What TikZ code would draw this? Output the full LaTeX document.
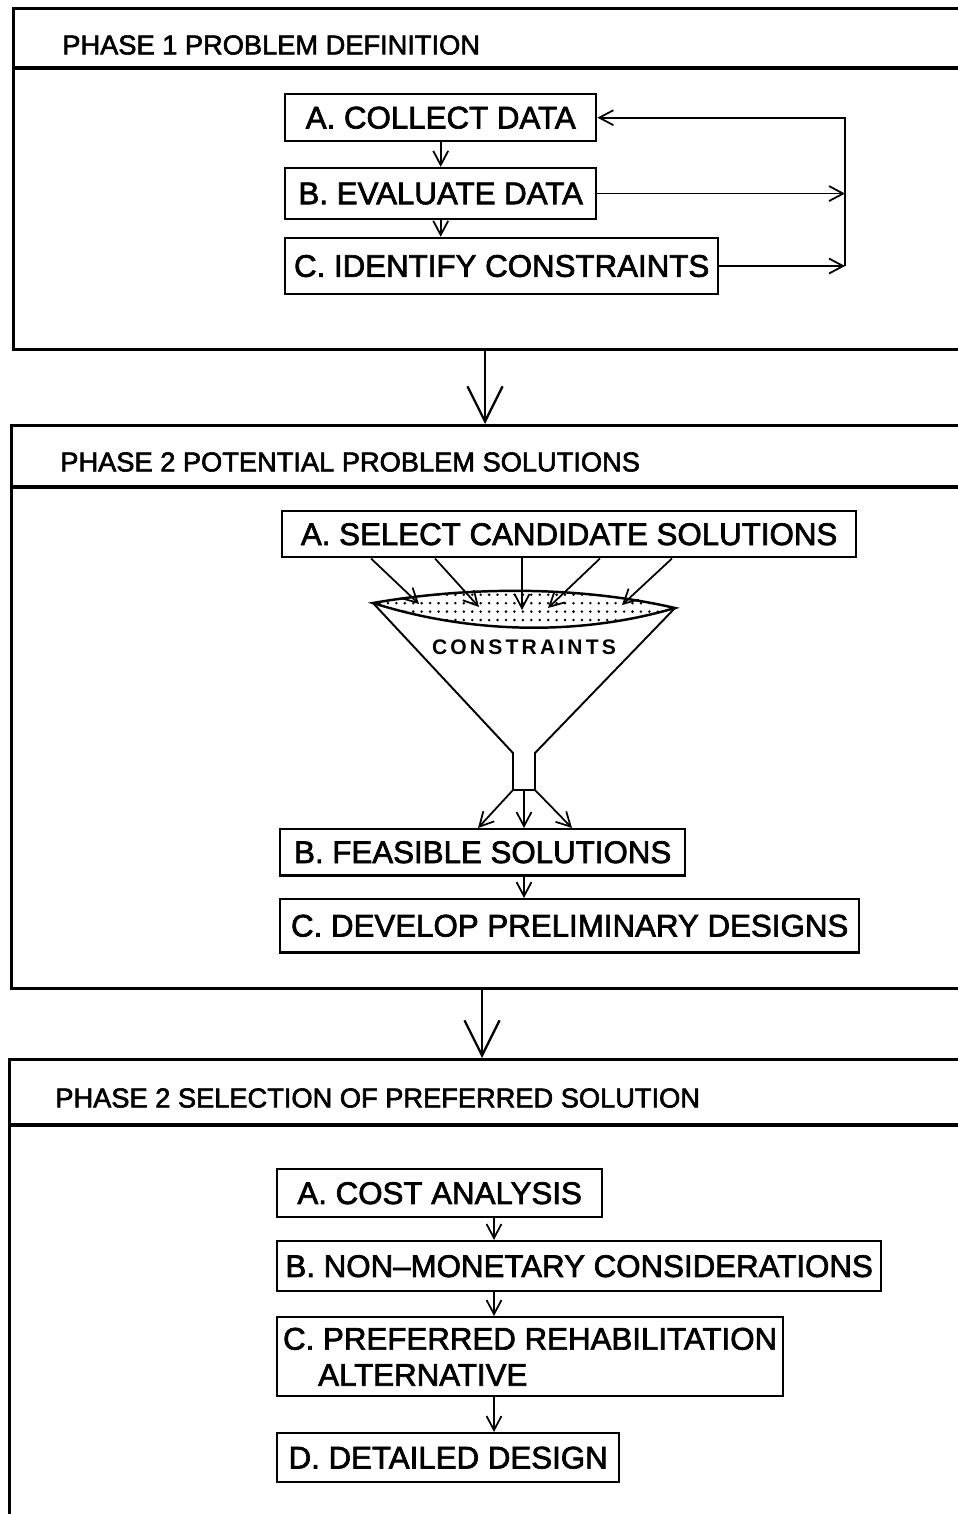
\documentclass[tikz,border=0pt]{standalone}
\usepackage{fontspec}
\setmainfont{Liberation Sans}
% regular outlines, thickened a little, stand in for the bold series
\newfontfamily\chartfont{Liberation Sans}[BoldFont={Liberation Sans}, BoldFeatures={FakeBold=2.2}]
\newfontfamily\spacedfont{Liberation Sans}[LetterSpace=15]
\usetikzlibrary{arrows.meta, positioning, patterns}

% loose dot raster for the funnel mouth
\pgfdeclarepatternformonly{sparse dots}{\pgfqpoint{-1pt}{-1pt}}{\pgfqpoint{1pt}{1pt}}{\pgfqpoint{4.8pt}{4.8pt}}%
{\pgfpathcircle{\pgfqpoint{0pt}{0pt}}{0.8pt}\pgfusepath{fill}}

\tikzstyle{phasebox} = [rectangle, 
draw=black, 
line width=1.8pt, 
anchor=north west, 
minimum width=563pt]
\tikzstyle{phasetitle} = [anchor=west, 
inner sep=0pt, 
font=\chartfont\bfseries\fontsize{15.5}{18}\selectfont]
\tikzstyle{task} = [rectangle, 
draw=black, 
line width=1.4pt, 
text centered, 
font=\chartfont\bfseries\fontsize{17.8}{20.5}\selectfont]
\tikzstyle{flow} = [-{Straight Barb[length=8pt, width=8.5pt]}, line width=1pt]
\tikzstyle{handover} = [-{Straight Barb[length=20pt, width=20pt]}, line width=1.3pt]

\begin{document}
\begin{tikzpicture}[x=0.02cm, y=-0.02cm]
\useasboundingbox (0,0) rectangle (957,1514);

% ---- phase 1
\node (phase1) [phasebox, minimum height=194pt] at (12,7) {};
\draw[line width=1.8pt] (phase1.north west) ++(0,61) -- ++(990,0);
\node (head1) [phasetitle] at (62,45) {PHASE 1 PROBLEM DEFINITION};

\node (a1) [task, minimum width=177pt, minimum height=26.7pt, anchor=north west] at (284,93) {A. COLLECT DATA};
\node (b1) [task, minimum width=177pt, minimum height=29pt, below=0.49cm of a1.south west, anchor=north west] {B. EVALUATE DATA};
\node (c1) [task, minimum width=246.4pt, minimum height=31.9pt, below=0.33cm of b1.south west, anchor=north west] {C. IDENTIFY CONSTRAINTS};

\coordinate (loop) at (845,0);
\draw[flow] (a1) -- (b1);
\draw[flow] (b1.south) -- (b1.south |- c1.north);
\draw[flow] (b1.east) -- (b1.east -| loop);
\draw[flow] (c1.east) -- (c1.east -| loop);
\draw[flow] (c1.east -| loop) -- (a1.east -| loop) -- (a1.east);

% ---- phase 2
\node (phase2) [phasebox, minimum height=320.4pt] at (10,424) {};
\draw[line width=1.8pt] (phase2.north west) ++(0,63) -- ++(990,0);
\node (head2) [phasetitle] at (60,462) {PHASE 2 POTENTIAL PROBLEM SOLUTIONS};

\coordinate (link1) at (485,0);
\draw[handover] (phase1.south -| link1) -- (phase2.north -| link1);

\node (a2) [task, minimum width=326.6pt, minimum height=26.2pt, anchor=north west] at (281,510) {A. SELECT CANDIDATE SOLUTIONS};

% funnel
\coordinate (rimL) at (373,603);
\coordinate (rimR) at (675,608);
\draw[line width=1.4pt, pattern=sparse dots] (rimL) .. controls (470,586) and (580,586) .. (rimR) .. controls (580,636) and (470,634) .. cycle;
\draw[line width=1.1pt] (rimL) -- (513,753) -- (513,790) -- (535,790) -- (535,753) -- (rimR);
\node (filter) [font=\spacedfont\bfseries\fontsize{12}{14}\selectfont] at (524,647) {CONSTRAINTS};

\foreach \sx/\tx/\ty [count=\i] in {371/419/604, 435/479/607, 522/522/610, 600/548/608, 672/622/605} {
  \coordinate (drop\i) at (\tx,\ty);
  \draw[flow] (a2.south -| \sx,0) -- (drop\i);
}

\node (b2) [task, minimum width=230.5pt, minimum height=26.2pt, anchor=north west] at (279,828) {B. FEASIBLE SOLUTIONS};
\node (c2) [task, minimum width=329.5pt, minimum height=30.2pt, below=0.43cm of b2.south west, anchor=north west] {C. DEVELOP PRELIMINARY DESIGNS};

\coordinate (spoutL) at (513,790);
\coordinate (spoutM) at (524,790);
\coordinate (spoutR) at (535,790);
\draw[flow] (spoutL) -- (b2.north -| 478,0);
\draw[flow] (spoutM) -- (b2.north -| spoutM);
\draw[flow] (spoutR) -- (b2.north -| 572,0);
\draw[flow] (b2.south -| spoutM) -- (c2.north -| spoutM);

% ---- phase 3
\node (phase3) [phasebox, minimum height=308pt] at (8,1058) {};
\draw[line width=1.8pt] (phase3.north west) ++(0,67) -- ++(992,0);
\node (head3) [phasetitle] at (55,1098) {PHASE 2 SELECTION OF PREFERRED SOLUTION};

\coordinate (link2) at (482,0);
\draw[handover] (phase2.south -| link2) -- (phase3.north -| link2);

\node (a3) [task, minimum width=184.9pt, minimum height=27.3pt, anchor=north west] at (276,1168) {A. COST ANALYSIS};
\node (b3) [task, minimum width=343.7pt, minimum height=28.5pt, below=0.43cm of a3.south west, anchor=north west] {B. NON–MONETARY CONSIDERATIONS};
\node (c3) [task, minimum width=285pt, minimum height=45pt, align=left, below=0.47cm of b3.south west, anchor=north west] {C. PREFERRED REHABILITATION\\\hspace*{20pt}ALTERNATIVE};
\node (d3) [task, minimum width=194.6pt, minimum height=27.9pt, below=0.69cm of c3.south west, anchor=north west] {D. DETAILED DESIGN};

\coordinate (spine3) at (494,0);
\draw[flow] (a3.south -| spine3) -- (b3.north -| spine3);
\draw[flow] (b3.south -| spine3) -- (c3.north -| spine3);
\draw[flow] (c3.south -| spine3) -- (d3.north -| spine3);

\end{tikzpicture}
\end{document}
